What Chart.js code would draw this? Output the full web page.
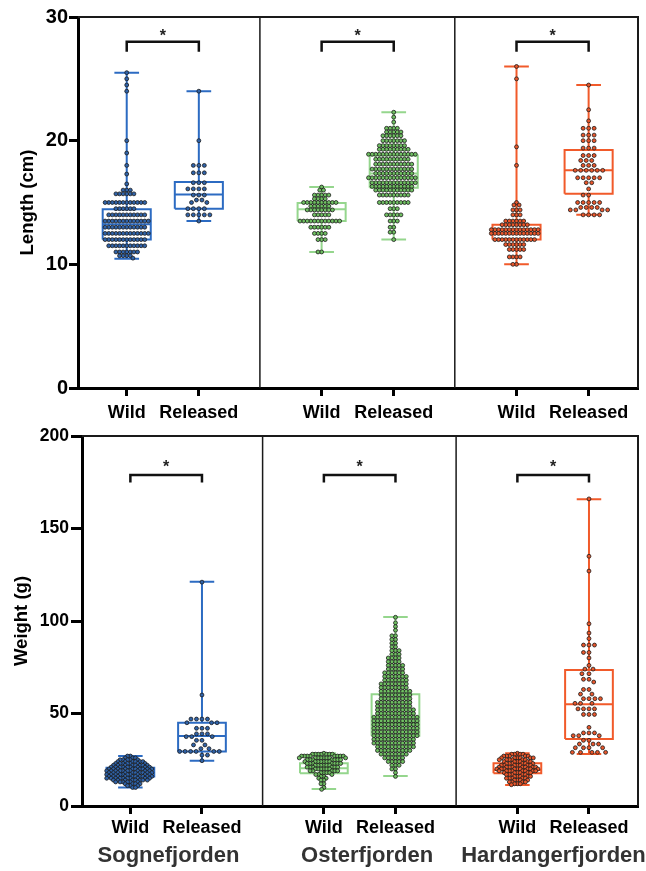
<!DOCTYPE html>
<html><head><meta charset="utf-8">
<script src="https://cdn.jsdelivr.net/npm/chart.js@4/dist/chart.umd.min.js"></script>
<style>
html,body{margin:0;padding:0;background:#fff;}
#wrap{position:relative;width:646px;height:871px;overflow:hidden;background:#fff;}
canvas{position:absolute;left:0;}
#c1{top:0;width:646px;height:440px;}
#c2{top:416px;width:646px;height:455px;}
</style></head><body>
<div id="wrap"><canvas id="c1" width="646" height="440"></canvas><canvas id="c2" width="646" height="455"></canvas></div>
<script>
// ---------- categories / tick labels ----------
const fjords = ['Sognefjorden', 'Osterfjorden', 'Hardangerfjorden'];
const groupLabels = ['Wild', 'Released'];
const groupPos = [1, 2.11, 4, 5.11, 7, 8.11];   // Wild/Released x for each fjord
const fjordPos = [1.59, 4.67, 7.56];
const dividerPos = [3.05, 6.05];
const lengthTicks = [0, 10, 20, 30];
const weightTicks = [0, 50, 100, 150, 200];

// ---------- Length (cm): [value, number of fish] ----------
const sogneWildLength = [[25.5,1],[25,1],[24.5,1],[24,1],[20,1],[19,1],[18,1],[17.3,1],[16.5,1],[16,3],[15.7,6],[15,12],[14.5,6],[14,11],[13.5,13],[13,12],[12.5,13],[12,12],[11.5,11],[11,7],[10.7,4],[10.5,1]];
const sogneRelLength = [[24,1],[20,1],[18,3],[17.4,3],[16.6,3],[16.1,4],[15.6,3],[15.2,2],[15,2],[14.5,4],[14,5],[13.5,1]];
const osterWildLength = [[16.25,1],[16,2],[15.6,5],[15.3,4],[15,10],[14.7,6],[14.4,8],[14,5],[13.5,12],[13,6],[12.5,4],[12,3],[11,2]];
const osterRelLength = [[22.3,1],[21.9,1],[21.5,1],[21,4],[20.7,5],[20.4,6],[20,7],[19.6,8],[19.3,9],[18.9,14],[18.5,10],[18.1,11],[17.7,12],[17.35,11],[17,14],[16.6,13],[16.3,12],[16,11],[15.6,9],[15,9],[14.5,3],[14,5],[13.5,3],[13,2],[12.6,2],[12,1]];
const hardWildLength = [[26,1],[25,1],[19.5,1],[18,1],[15,1],[14.8,2],[14.4,3],[14,3],[13.5,6],[13.2,8],[12.8,14],[12.5,14],[12,12],[11.6,6],[11.2,5],[10.6,4],[10,2]];
const hardRelLength = [[24.5,1],[22.5,1],[21.6,1],[21,3],[20.45,3],[20,3],[19.4,3],[18.8,3],[18.4,3],[18,3],[17.6,6],[17,5],[16.6,2],[16.1,1],[15.6,2],[15,5],[14.6,4],[14.4,4],[14,4]];

// ---------- Weight (g): [value, number of fish] ----------
const sogneWildWeight = [[27,2],[26,3],[25,5],[24,6],[23,7],[22,8],[21,9],[20,10],[19,10],[18,10],[17,10],[16,10],[15,10],[14,8],[13,6],[12,4],[11,3],[10,2]];
const sogneRelWeight = [[121,1],[60,1],[47,4],[45,3],[42,3],[39,3],[37.5,3],[35.5,2],[33,2],[31,2],[29.5,6],[27.5,2],[24.5,1]];
const osterWildWeight = [[28.5,1],[28,7],[27,8],[26,8],[25,7],[24,7],[23,7],[22,6],[21,6],[20,6],[19,5],[18,4],[17,3],[16,2],[15,2],[14,2],[12,2],[10,1],[9,1]];
const osterRelWeight = [[102,1],[99,1],[97,1],[95,1],[92,2],[90,2],[88,2],[86,2],[84,3],[82,3],[80,4],[78,4],[76,5],[74,5],[72,6],[70,7],[68,7],[66,8],[64,8],[62,9],[60,9],[58,9],[56,10],[54,10],[52,11],[50,11],[48,13],[46,13],[44,13],[42,13],[40,13],[38,13],[36,12],[34,12],[32,11],[30,10],[28,8],[26,6],[24,5],[22,3],[20,2],[18,1],[16,1]];
const hardWildWeight = [[28.5,1],[28,4],[27,5],[26,6],[25,6],[24,6],[23,6],[22,7],[21,8],[20,9],[19,8],[18,6],[17,5],[16,5],[15,5],[14,4],[13,4],[12,3],[11.5,1]];
const hardRelWeight = [[166,1],[135,1],[127,1],[98.5,1],[93.5,1],[90.5,1],[87,3],[83,2],[80,1],[76,1],[74,2],[71.5,2],[68.5,2],[67,1],[63,2],[60.5,2],[58,4],[55.5,3],[52.5,4],[49.5,3],[42.5,1],[39.5,3],[38,3],[35.5,2],[33.5,3],[31.5,4],[29,5]];

// ---------- box stats [min, Q1, median, Q3, max] ----------
const lengthBoxStats = [[10.45,12.0,13.25,14.45,25.5],[13.5,14.5,15.65,16.65,24.0],[11.0,13.5,14.45,14.95,16.25],[12.0,16.2,17.35,18.8,22.3],[10.0,12.0,12.75,13.2,26.0],[14.0,15.7,17.6,19.25,24.5]];
const weightBoxStats = [[10,16,18,20.7,27],[24.5,29.4,37.8,45,121.2],[9.2,17.7,20.4,23.1,28.5],[16.2,38,45,60.4,102.2],[11.4,17.7,19.5,23.1,28.5],[28.1,36.2,55,73.5,165.8]];

// significance bracket [end, top] and star position
const lengthBracket = [27.2, 28.0];
const weightBracket = [174.8, 178.9];
const lengthStar = 28.8;
const weightStar = 185.6;

// ---------- styles ----------
const FONT = "'Liberation Sans', Arial, Helvetica, sans-serif";
const boxColor = ['#2c6bc2', '#95d68d', '#f15a2a'];
const pointFill = ['#2f62a8', '#6fbf62', '#e8562b'];
const pointEdge = '#1c1c1c';

function expand(rows) { const out = []; rows.forEach(([v, n]) => { for (let i = 0; i < n; i++) out.push(v); }); return out; }

function boxPoints(c, s) {
  const [mn, q1, md, q3, mx] = s, h = 0.37, k = 0.19;
  return [
    {x:c-h,y:q1},{x:c+h,y:q1},{x:c+h,y:q3},{x:c-h,y:q3},{x:c-h,y:q1},{x:c,y:null},
    {x:c-h,y:md},{x:c+h,y:md},{x:c,y:null},
    {x:c,y:q3},{x:c,y:mx},{x:c,y:null},{x:c-k,y:mx},{x:c+k,y:mx},{x:c,y:null},
    {x:c,y:q1},{x:c,y:mn},{x:c,y:null},{x:c-k,y:mn},{x:c+k,y:mn}
  ];
}

function swarmOffsets(ys, d) {
  const idx = ys.map((y, i) => i).sort((a, b) => ys[a] - ys[b]);
  const placed = [], out = new Array(ys.length);
  for (const i of idx) {
    const y = ys[i];
    const near = placed.filter(p => Math.abs(p.y - y) < d);
    const cands = [0];
    near.forEach(p => { const dx = Math.sqrt(d * d - (p.y - y) ** 2); cands.push(p.x + dx, p.x - dx); });
    cands.sort((a, b) => (Math.abs(a) - Math.abs(b)) || (a - b));
    let best = 0;
    for (const c of cands) {
      if (near.every(p => (p.x - c) ** 2 + (p.y - y) ** 2 >= d * d - 1e-6)) { best = c; break; }
    }
    placed.push({x: best, y}); out[i] = best;
  }
  return out;
}

const decorPlugin = {
  id: 'decor',
  beforeDatasetsDraw(chart) {
    const {ctx, chartArea: a, scales: {x}} = chart;
    ctx.save();
    ctx.strokeStyle = '#1a1a1a'; ctx.lineWidth = 1.5;
    ctx.beginPath();
    dividerPos.forEach(v => { const px = x.getPixelForValue(v); ctx.moveTo(px, a.top); ctx.lineTo(px, a.bottom); });
    ctx.stroke();
    ctx.lineWidth = 2;
    ctx.beginPath(); ctx.moveTo(a.left, a.top); ctx.lineTo(a.right, a.top); ctx.lineTo(a.right, a.bottom); ctx.stroke();
    ctx.restore();
  },
  afterDatasetsDraw(chart, args, opts) {
    const {ctx, scales: {x, y}} = chart;
    ctx.save();
    ctx.fillStyle = '#222'; ctx.font = 'bold 16px ' + FONT; ctx.textAlign = 'center'; ctx.textBaseline = 'alphabetic';
    for (let f = 0; f < 3; f++) {
      const px = (x.getPixelForValue(groupPos[2*f]) + x.getPixelForValue(groupPos[2*f+1])) / 2;
      ctx.fillText('*', px, y.getPixelForValue(opts.star) + 9);
    }
    ctx.restore();
  }
};

function buildChart(id, cfg) {
  const datasets = [];
  cfg.rows.forEach((r, g) => {
    const f = Math.floor(g / 2);
    datasets.push({
      data: expand(r).map(v => ({x: groupPos[g], y: v})),
      _center: groupPos[g], _gap: cfg.gaps[g],
      backgroundColor: pointFill[f], borderColor: pointEdge, borderWidth: 0.8,
      pointRadius: 1.95, pointHoverRadius: 1.95, showLine: false, order: 0, xAxisID: 'x', yAxisID: 'y'
    });
  });
  cfg.stats.forEach((s, g) => {
    datasets.push({
      data: boxPoints(groupPos[g], s), showLine: true, spanGaps: false,
      borderColor: boxColor[Math.floor(g / 2)], borderWidth: 2, pointRadius: 0, pointHoverRadius: 0,
      borderJoinStyle: 'miter', borderCapStyle: 'butt', order: 1, xAxisID: 'x', yAxisID: 'y'
    });
  });
  for (let f = 0; f < 3; f++) {
    const a = groupPos[2*f], b = groupPos[2*f+1];
    datasets.push({
      data: [{x:a,y:cfg.bracket[0]},{x:a,y:cfg.bracket[1]},{x:b,y:cfg.bracket[1]},{x:b,y:cfg.bracket[0]}],
      showLine: true, borderColor: '#111', borderWidth: 2.5, pointRadius: 0, pointHoverRadius: 0,
      borderJoinStyle: 'miter', order: 1, xAxisID: 'x', yAxisID: 'y'
    });
  }
  const scales = {
    x: {
      type: 'linear', position: 'bottom', min: 0.25, max: 8.87,
      afterBuildTicks: s => { s.ticks = groupPos.map(v => ({value: v})); },
      ticks: { autoSkip: false, maxRotation: 0, padding: cfg.xPad, color: '#000',
        font: {family: FONT, size: 18, weight: 'bold'}, callback: (v, i) => groupLabels[i % 2] },
      grid: { drawOnChartArea: false, tickLength: 8, tickWidth: 3, tickColor: '#000' },
      border: { display: true, width: 3, color: '#000' },
      afterFit: s => { s.height = cfg.xHeight; s.paddingLeft = 0; s.paddingRight = 0; }
    },
    y: {
      type: 'linear', position: 'left', min: cfg.yTicks[0], max: cfg.yTicks[cfg.yTicks.length - 1],
      afterBuildTicks: s => { s.ticks = cfg.yTicks.map(v => ({value: v})); },
      ticks: { padding: cfg.yPad, color: '#000', font: {family: FONT, size: cfg.yFont, weight: 'bold'} },
      grid: { drawOnChartArea: false, tickLength: cfg.yTickLen, tickWidth: 3, tickColor: '#000' },
      border: { display: true, width: 3, color: '#000' },
      title: { display: true, text: cfg.yTitle, color: '#000', font: {family: FONT, size: 18.5, weight: 'bold'},
        padding: {top: cfg.titlePad, bottom: 0} },
      afterFit: s => { s.width = cfg.yWidth; s.paddingTop = 0; s.paddingBottom = 0; }
    }
  };
  if (cfg.fjordAxis) {
    scales.x2 = {
      type: 'linear', position: 'bottom', weight: 1, min: 0.25, max: 8.87,
      afterBuildTicks: s => { s.ticks = fjordPos.map(v => ({value: v})); },
      ticks: { autoSkip: false, maxRotation: 0, padding: 7, color: '#333',
        font: {family: FONT, size: 22, weight: 'bold'}, callback: (v, i) => fjords[i] },
      grid: { display: false, drawTicks: false },
      border: { display: false },
      afterFit: s => { s.height = 35; s.paddingLeft = 0; s.paddingRight = 0; }
    };
  }
  const chart = new Chart(document.getElementById(id), {
    type: 'scatter',
    data: { datasets },
    options: {
      responsive: false, animation: false, devicePixelRatio: 1,
      layout: { padding: cfg.padding },
      plugins: { legend: {display: false}, tooltip: {enabled: false}, decor: {star: cfg.star} },
      scales
    },
    plugins: [decorPlugin]
  });
  // beeswarm layout of the points, done through the chart's own scales
  const xs = chart.scales.x, ys = chart.scales.y;
  chart.data.datasets.forEach(ds => {
    if (ds._center === undefined) return;
    const cx = xs.getPixelForValue(ds._center);
    const pys = ds.data.map(p => ys.getPixelForValue(p.y));
    const offs = swarmOffsets(pys, ds._gap);
    ds.data.forEach((p, i) => { p.x = xs.getValueForPixel(cx + offs[i]); });
  });
  chart.update('none');
  return chart;
}

buildChart('c1', {
  rows: [sogneWildLength, sogneRelLength, osterWildLength, osterRelLength, hardWildLength, hardRelLength],
  stats: lengthBoxStats, yTicks: lengthTicks, yTitle: 'Length (cm)',
  bracket: lengthBracket, star: lengthStar, gaps: [3.6, 5.5, 3.6, 3.6, 3.6, 5.5],
  padding: {left: 0, top: 17, right: 8, bottom: 0},
  xHeight: 52, xPad: 6, yWidth: 78, yPad: 1, yTickLen: 9, yFont: 20, titlePad: 16.5, fjordAxis: false
});
buildChart('c2', {
  rows: [sogneWildWeight, sogneRelWeight, osterWildWeight, osterRelWeight, hardWildWeight, hardRelWeight],
  stats: weightBoxStats, yTicks: weightTicks, yTitle: 'Weight (g)',
  bracket: weightBracket, star: weightStar, gaps: [2.9, 5.5, 2.9, 3.6, 2.9, 5.5],
  padding: {left: 0, top: 20, right: 8, bottom: 0},
  xHeight: 30, xPad: 3, yWidth: 82, yPad: 2, yTickLen: 11, yFont: 17.5, titlePad: 10.5, fjordAxis: true
});
</script>
</body></html>
